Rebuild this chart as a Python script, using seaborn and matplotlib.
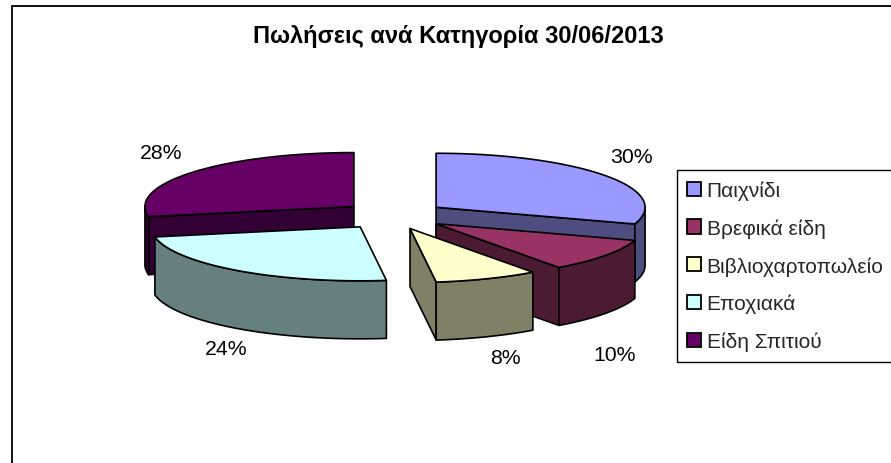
#Sales per category, exploded 3D pie
import numpy as np
import matplotlib
matplotlib.use("Agg")
import matplotlib.pyplot as plt
from matplotlib.patches import Patch
import seaborn as sns

#data
categories = ["Παιχνίδι", "Βρεφικά είδη", "Βιβλιοχαρτοπωλείο", "Εποχιακά", "Είδη Σπιτιού"]
shares = [30, 10, 8, 24, 28]
top_colors = ["#9999FF", "#993366", "#FFFFCC", "#CCFFFF", "#660066"]
side_colors = ["#4D4D80", "#4D1A33", "#808066", "#668080", "#330033"]
explode = [1.04, 1.04, 0.87, 1.15, 1.04]
label_pos = [(631, 158), (615, 356), (505, 359), (226, 350), (161, 154)]

sns.set_theme(style="white")
plt.rcParams['font.family'] = ['Liberation Sans', 'DejaVu Sans']

fig, ax = plt.subplots(figsize=(8.91, 4.64), dpi=100)
ax.set_position([0, 0, 1, 1])
ax.set_xlim(0, 891)
ax.set_ylim(464, 0)
ax.axis("off")

#outer frame, runs off the picture on the right and bottom
ax.plot([12, 12], [7, 464], color="black", lw=1.3)
ax.plot([12, 891], [7, 7], color="black", lw=1.3)

#pie geometry in pixels
cx, cy = 394, 216.5
rx, ry = 209, 54
ex, ey = 50, 14
depth = 58
line = dict(edgecolor="black", lw=1.2, joinstyle="round")


def ellipse_pts(x0, y0, a0, a1):
    # clockwise from 12 o'clock, y axis points down
    t = np.radians(np.linspace(a0, a1, 80))
    return np.column_stack([x0 + rx * np.sin(t), y0 - ry * np.cos(t)])


def draw_slice(i, a0, a1):
    mid = np.radians((a0 + a1) / 2)
    x0 = cx + explode[i] * ex * np.sin(mid)
    y0 = cy - ey * np.cos(mid)
    down = np.array([0, depth])
    apex = np.array([[x0, y0]])

    # radial walls, only the ones facing the viewer
    for a in (a0, a1):
        facing = (a == a1 and 0 < a < 180) or (a == a0 and 180 < a < 360)
        if facing:
            p = ellipse_pts(x0, y0, a, a)[:1]
            wall = np.vstack([apex, p, p + down, apex + down])
            ax.fill(wall[:, 0], wall[:, 1], facecolor=side_colors[i], zorder=i_z, **line)

    # outer rim, front half of the ellipse only
    r0, r1 = max(a0, 90), min(a1, 270)
    if r0 < r1:
        rim = ellipse_pts(x0, y0, r0, r1)
        wall = np.vstack([rim, rim[::-1] + down])
        ax.fill(wall[:, 0], wall[:, 1], facecolor=side_colors[i], zorder=i_z, **line)

    top = np.vstack([apex, ellipse_pts(x0, y0, a0, a1)])
    ax.fill(top[:, 0], top[:, 1], facecolor=top_colors[i], zorder=i_z, **line)


edges = np.cumsum([0] + shares) * 3.6
# paint from the back of the pie to the front
order = sorted(range(len(shares)), key=lambda k: -abs((edges[k] + edges[k + 1]) / 2 - 180))
for i_z, k in enumerate(order, start=2):
    draw_slice(k, edges[k], edges[k + 1])

#percent labels
for s, (lx, ly) in zip(shares, label_pos):
    ax.text(lx, ly, f"{s}%", fontsize=15.3, color="black", ha="center", va="center", zorder=20)

#title
ax.text(458, 37, "Πωλήσεις ανά Κατηγορία 30/06/2013", fontsize=17, fontweight="bold",
        color="black", ha="center", va="center")

#legend
handles = [Patch(facecolor=c, edgecolor="black", lw=1.3) for c in top_colors]
leg = ax.legend(handles, categories, loc="upper left", bbox_to_anchor=(677 / 891, 1 - 171 / 464),
                fontsize=15, frameon=True, fancybox=False, framealpha=1, edgecolor="black",
                handlelength=0.67, handleheight=0.67, handletextpad=0.25, labelspacing=0.88,
                borderpad=0.5, borderaxespad=0)
leg.get_frame().set_linewidth(1)

fig.savefig("out.png", dpi=100)
